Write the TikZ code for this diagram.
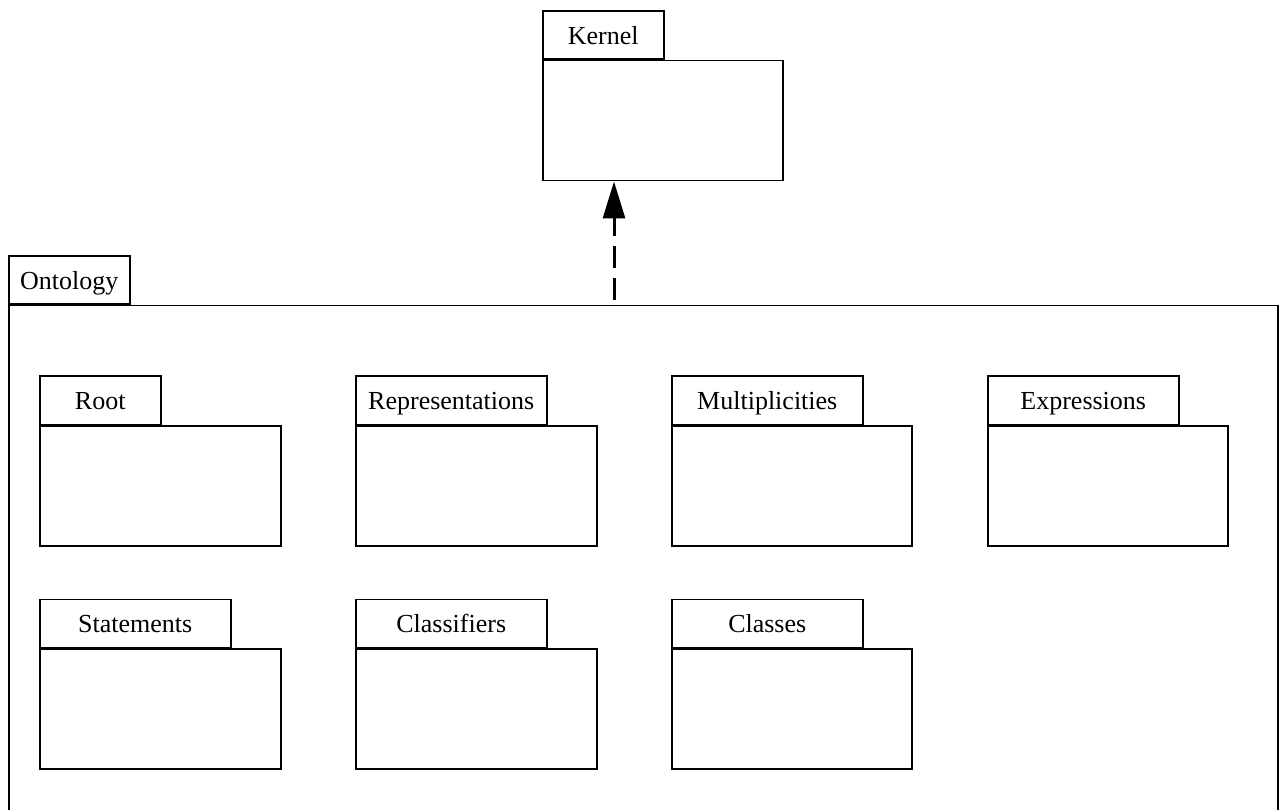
\documentclass[tikz,border=0pt]{standalone}
\usepackage{fontspec}
\setmainfont{Liberation Serif}
\usetikzlibrary{arrows.meta}
\begin{document}
\begin{tikzpicture}[x=1pt,y=-1pt,
  every node/.style={font=\fontsize{26}{30}\selectfont},
  pkgtab/.style={draw, line width=1.5pt, inner sep=0pt, minimum height=48pt, anchor=south west, text height=22pt, text depth=3pt},
  pkgbody/.style={draw, line width=1.5pt, inner sep=0pt, anchor=north west},
  dep/.style={line width=3pt, dash pattern=on 22pt off 10pt, -{Triangle[length=37pt,width=22pt]}}]
\useasboundingbox (0,0) rectangle (1283,810);
% Kernel
\node[pkgbody, minimum width=240pt, minimum height=120pt] (kernel) at (542,60) {};
\node[pkgtab, minimum width=121pt] (kerneltab) at (542,60) {Kernel};
% Ontology
\node[pkgbody, minimum width=1269pt, minimum height=508pt] (ontology) at (8,305) {};
\node[pkgtab, minimum width=121pt] (ontologytab) at (8,305) {Ontology};
% Row 1
\node[pkgbody, minimum width=241pt, minimum height=120pt] (root) at (39,425) {};
\node[pkgtab, minimum width=121pt] (roottab) at (39,425) {Root};
\node[pkgbody, minimum width=241pt, minimum height=120pt] (repr) at (355,425) {};
\node[pkgtab, minimum width=191pt] (reprtab) at (355,425) {Representations};
\node[pkgbody, minimum width=240pt, minimum height=120pt] (mult) at (671,425) {};
\node[pkgtab, minimum width=191pt] (multtab) at (671,425) {Multiplicities};
\node[pkgbody, minimum width=240pt, minimum height=120pt] (expr) at (987,425) {};
\node[pkgtab, minimum width=191pt] (exprtab) at (987,425) {Expressions};
% Row 2
\node[pkgbody, minimum width=241pt, minimum height=120pt] (stmt) at (39,648) {};
\node[pkgtab, minimum width=191pt] (stmttab) at (39,648) {Statements};
\node[pkgbody, minimum width=241pt, minimum height=120pt] (classifiers) at (355,648) {};
\node[pkgtab, minimum width=191pt] (classifierstab) at (355,648) {Classifiers};
\node[pkgbody, minimum width=240pt, minimum height=120pt] (classes) at (671,648) {};
\node[pkgtab, minimum width=191pt] (classestab) at (671,648) {Classes};
% Dependency
\coordinate (depstart) at (614,300);
\draw[dep] (depstart) -- (depstart |- kernel.south);
\end{tikzpicture}
\end{document}
